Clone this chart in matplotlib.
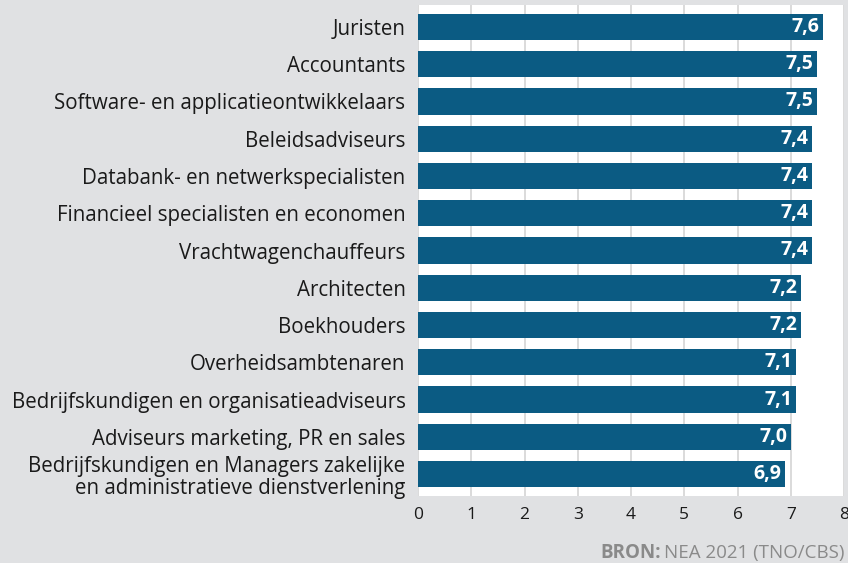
import matplotlib.pyplot as plt

beroepen = [
    'Juristen',
    'Accountants',
    'Software- en applicatieontwikkelaars',
    'Beleidsadviseurs',
    'Databank- en netwerkspecialisten',
    'Financieel specialisten en economen',
    'Vrachtwagenchauffeurs',
    'Architecten',
    'Boekhouders',
    'Overheidsambtenaren',
    'Bedrijfskundigen en organisatieadviseurs',
    'Adviseurs marketing, PR en sales',
    'Bedrijfskundigen en Managers zakelijke\nen administratieve dienstverlening',
]
scores = [7.6, 7.5, 7.5, 7.4, 7.4, 7.4, 7.4, 7.2, 7.2, 7.1, 7.1, 7.0, 6.9]
xticks = [0, 1, 2, 3, 4, 5, 6, 7, 8]

bg = '#e0e1e3'
bar_color = '#0b5b83'

plt.rcParams['font.family'] = ['Open Sans', 'DejaVu Sans']

fig = plt.figure(figsize=(8.48, 5.63), dpi=100, facecolor=bg)
ax = fig.add_axes([418 / 848, 1 - 496 / 563, 426 / 848, 491 / 563])
ax.set_facecolor('white')

pos = list(range(len(beroepen)))
ax.barh(pos, scores, height=0.7, color=bar_color, zorder=3)

for y, v in zip(pos, scores):
    ax.text(v - 0.07, y, f'{v:.1f}'.replace('.', ','), ha='right', va='center',
            color='white', fontweight='bold', fontsize=14, zorder=4)

ax.set_xlim(0, 8)
ax.set_ylim(len(beroepen) - 0.41, -0.59)
ax.set_xticks(xticks)
ax.set_xticklabels([str(t) for t in xticks])
ax.set_yticks(pos)
ax.set_yticklabels(beroepen, linespacing=1.12)
ax.tick_params(axis='both', length=0, labelsize=14.8, colors='#1a1a1a')
ax.tick_params(axis='x', pad=8, labelsize=12.5)
ax.tick_params(axis='y', pad=9)
for lbl in ax.get_yticklabels():
    lbl.set_multialignment('right')

ax.grid(axis='x', color='#d4d4d4', linewidth=1.2, zorder=0)
for s in ax.spines.values():
    s.set_visible(False)

src_plain = fig.text(845 / 848, 1 - 553 / 563, 'NEA 2021 (TNO/CBS)', ha='right', va='center',
                     color='#8a8a8a', fontsize=13.5)
fig.canvas.draw()
bb = src_plain.get_window_extent()
fig.text(bb.x0 / 848 - 0.004, 1 - 553 / 563, 'BRON:', ha='right', va='center',
         color='#8a8a8a', fontsize=13.5, fontweight='bold')

fig.savefig('out.png', dpi=100, facecolor=bg)
